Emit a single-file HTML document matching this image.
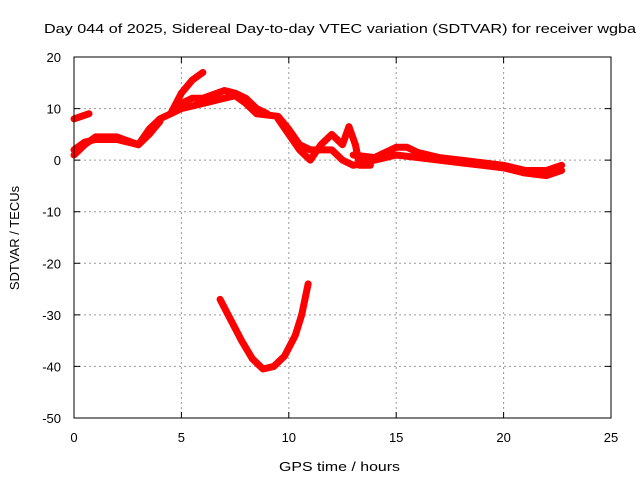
<!DOCTYPE html>
<html><head><meta charset="utf-8"><style>
body{margin:0;background:#fff;}
svg text{font-family:"Liberation Sans",sans-serif;font-size:13px;fill:#000;}
</style></head><body>
<svg width="640" height="480">
<rect x="0" y="0" width="640" height="480" fill="#fff"/>
<g id="grid"></g><g id="series"></g><g id="axes"></g>
</svg>
<script>
const xTicks=[0,5,10,15,20,25];
const yTicks=[20,10,0,-10,-20,-30,-40,-50];
const seriesMain=[[0,2],[0.5,3.5],[1,4],[2,4],[2.5,3.5],[3,3],[3.5,6],[4,8],[4.5,9],[5,10],[6,11],[7,12],[7.5,12.5],[8,11],[8.5,9],[9.5,8.5],[10,6],[10.5,3],[11,2],[12,2],[12.5,0],[13,-1],[14,0],[15,1],[16,0.5],[17,0],[18,-0.5],[19,-1],[20,-1.5],[21,-2.5],[22,-3],[22.7,-2]];
const seriesUpper=[[4.5,9],[5,11],[5.5,12],[6,12],[7,13.5],[7.5,13],[8,12],[8.5,10],[9,9]];
const seriesSpike=[[4.5,9],[5,13],[5.5,15.5],[6,17]];
const seriesEarly=[[0,8],[0.7,9]];
const seriesLow=[[0,1],[0.5,3],[1,4.5],[2,4.5],[3,3],[3.5,5],[4,7.5]];
const seriesBranch=[[9.5,8],[10,5],[10.5,2],[11,0],[11.5,3],[12,5],[12.5,3],[12.8,6.5],[13.1,3],[13.3,-1],[13.8,-1]];
const seriesLate=[[13,1],[14,0.5],[15,2.5],[15.5,2.5],[16,1.5],[17,0.5],[18,0],[19,-0.5],[20,-1],[21,-2],[22,-2],[22.7,-1]];
const seriesDip=[[6.8,-27],[7.3,-31],[7.8,-35],[8.3,-38.5],[8.8,-40.5],[9.3,-40],[9.8,-38],[10.3,-34],[10.6,-30],[10.9,-24]];
const allSeries=[seriesMain,seriesUpper,seriesSpike,seriesEarly,seriesLow,seriesBranch,seriesLate,seriesDip];
const X0=74,X1=611,Y0=57,Y1=418;
const px=h=>X0+(h-0)/(25-0)*(X1-X0);
const py=v=>Y0+(20-v)/(20-(-50))*(Y1-Y0);
const NS='http://www.w3.org/2000/svg';
function mk(tag,attrs,parent){const e=document.createElementNS(NS,tag);for(const k in attrs)e.setAttribute(k,attrs[k]);document.getElementById(parent).appendChild(e);return e;}
xTicks.forEach(t=>{
 if(t>0&&t<25){const l=mk('line',{x1:px(t),x2:px(t),y1:Y0,y2:Y1,stroke:'#999','stroke-dasharray':'2,3'},'grid');
 
 }
 const tk=mk('path',{d:`M${px(t)},${Y1}v-6M${px(t)},${Y0}v6`,stroke:'#000'},'axes');
 
 
 const tx=mk('text',{x:px(t),y:Y1+24,'text-anchor':'middle','font-size':'14'},'axes');tx.textContent=t;
 
 
});
yTicks.forEach(t=>{
 if(t<20&&t>-50){const l=mk('line',{x1:X0,x2:X1,y1:py(t),y2:py(t),stroke:'#999','stroke-dasharray':'2,3'},'grid');
 
 }
 const tk=mk('path',{d:`M${X0},${py(t)}h6M${X1},${py(t)}h-6`,stroke:'#000'},'axes');
 
 
 const tx=mk('text',{x:X0-13,y:py(t)+5,'text-anchor':'end','font-size':'14'},'axes');tx.textContent=t;
 
 
});
allSeries.forEach(s=>{
 const p=mk('polyline',{points:s.map(d=>px(d[0])+','+py(d[1])).join(' '),fill:'none',stroke:'#f00','stroke-width':7,'stroke-linejoin':'round','stroke-linecap':'round'},'series');
 
 
});
const fr=mk('rect',{x:X0,y:Y0,width:X1-X0,height:Y1-Y0,fill:'none',stroke:'#000','stroke-width':1},'axes');


const t=mk('text',{x:44,y:33,textLength:592,lengthAdjust:'spacingAndGlyphs','font-size':'15'},'axes');t.textContent='Day 044 of 2025, Sidereal Day-to-day VTEC variation (SDTVAR) for receiver wgba';


const xl=mk('text',{x:279,y:471,textLength:121,lengthAdjust:'spacingAndGlyphs','font-size':'15'},'axes');xl.textContent='GPS time / hours';


const yl=mk('text',{x:19,y:238,'text-anchor':'middle','font-size':'15',transform:'rotate(-90 19 238)'},'axes');yl.textContent='SDTVAR / TECUs';


</script>
</body></html>
